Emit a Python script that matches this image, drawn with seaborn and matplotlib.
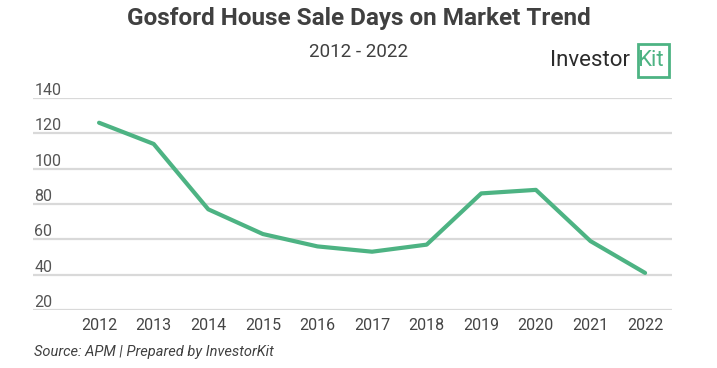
import numpy as np
import pandas as pd
import matplotlib
matplotlib.use("Agg")
import matplotlib.pyplot as plt
import seaborn as sns
from matplotlib.patches import Rectangle

years = ["2012", "2013", "2014", "2015", "2016", "2017", "2018", "2019", "2020", "2021", "2022"]
days = [126, 114, 77, 63, 56, 53, 57, 86, 88, 59, 41]
y_ticks = [20, 40, 60, 80, 100, 120, 140]

sns.set_style("white")
plt.rcParams["font.family"] = ["Roboto", "DejaVu Sans"]

line_color = "#4DB383"
text_color = "#404040"

df = pd.DataFrame({"idx": np.arange(len(years)), "days": days})

fig = plt.figure(figsize=(7.17, 3.68), dpi=100)
ax = fig.add_axes([0.046, 1 - 310 / 368, 0.891, 212 / 368])

sns.lineplot(data=df, x="idx", y="days", ax=ax, color=line_color, linewidth=3)

ax.set_xlim(-1.21, 10.49)
ax.set_ylim(20, 140)
ax.set_yticks(y_ticks)
ax.set_xticks(df["idx"])
ax.set_xticklabels(years)
ax.grid(axis="y", color="#d9d9d9", linewidth=1.6)
ax.set_axisbelow(True)
for s in ax.spines.values():
    s.set_visible(False)
ax.set_xlabel("")
ax.set_ylabel("")

ax.tick_params(axis="y", length=0, pad=-1, labelsize=11.5, labelcolor="#555555")
for lab in ax.get_yticklabels():
    lab.set_horizontalalignment("left")
    lab.set_verticalalignment("bottom")
ax.tick_params(axis="x", length=0, pad=6, labelsize=11.5, labelcolor="#444444")

fig.text(0.5, 1 - 18 / 368, "Gosford House Sale Days on Market Trend", ha="center", va="center",
         fontsize=17.5, fontweight="bold", color=text_color)
fig.text(0.5, 1 - 52 / 368, "2012 - 2022", ha="center", va="center", fontsize=13.5, color=text_color)
fig.text(34 / 717, 1 - 352 / 368, "Source: APM | Prepared by InvestorKit", ha="left", va="center",
         fontsize=10.5, style="italic", color=text_color)

# logo
fig.text(550 / 717, 1 - 61 / 368, "Investor", ha="left", va="center", fontsize=16, color="#2b2b2b")
fig.patches.append(Rectangle((638 / 717, 1 - 77 / 368), 31 / 717, 33 / 368, transform=fig.transFigure,
                             fill=False, edgecolor=line_color, linewidth=2))
fig.text(637 / 717, 1 - 61 / 368, "Kit", ha="left", va="center", fontsize=16, color=line_color)

fig.savefig("out.png", dpi=100)
